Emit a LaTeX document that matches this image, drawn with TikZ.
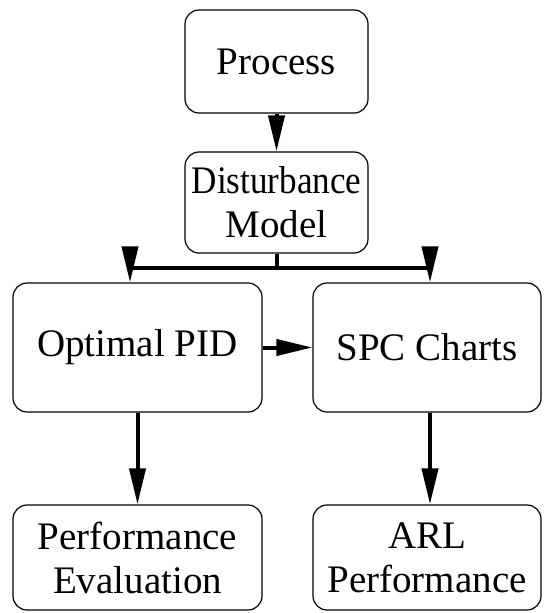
\documentclass[tikz,border=0pt]{standalone}
\usepackage{fontspec}
\setmainfont{Liberation Serif}
\usetikzlibrary{arrows.meta}
\begin{document}
\begin{tikzpicture}[x=1pt,y=-1pt,
  box/.style={draw=black, line width=1.2pt, rounded corners=14pt, align=center,
    inner sep=0pt, font=\fontsize{39}{44}\selectfont},
  conn/.style={line width=4pt, -{Triangle[length=36pt,width=16pt]}},
  plain/.style={line width=4pt}]
\useasboundingbox (0,0) rectangle (548,613);
\node[box, minimum width=183pt, minimum height=103pt] (proc) at (276.5,61.5) {Process};
\node[box, minimum width=183pt, minimum height=101pt] (dist) at (276.5,202.5) {\scalebox{0.9}[1]{Disturbance}\\Model};
\node[box, minimum width=249pt, minimum height=129pt] (opt) at (137.5,347.5) {Optimal PID};
\node[box, minimum width=228pt, minimum height=129pt] (spc) at (427,347.5) {SPC Charts};
\node[box, minimum width=249pt, minimum height=105pt] (perf) at (137.5,557.5) {Performance\\Evaluation};
\node[box, minimum width=228pt, minimum height=105pt] (arl) at (427,557.5) {ARL\\Performance};
\coordinate (br) at (276.5,268);
\coordinate (bl) at (130,268);
\coordinate (brr) at (430,268);
\draw[conn] (proc.south) -- (dist.north);
\draw[plain] (dist.south) -- (br);
\draw[conn] (br) -| (opt.north -| bl);
\draw[conn] (br) -| (spc.north -| brr);
\draw[conn] (opt.east) -- (spc.west);
\draw[conn] (opt.south) -- (perf.north);
\draw[conn] (spc.south -| brr) -- (arl.north -| brr);
\end{tikzpicture}
\end{document}
